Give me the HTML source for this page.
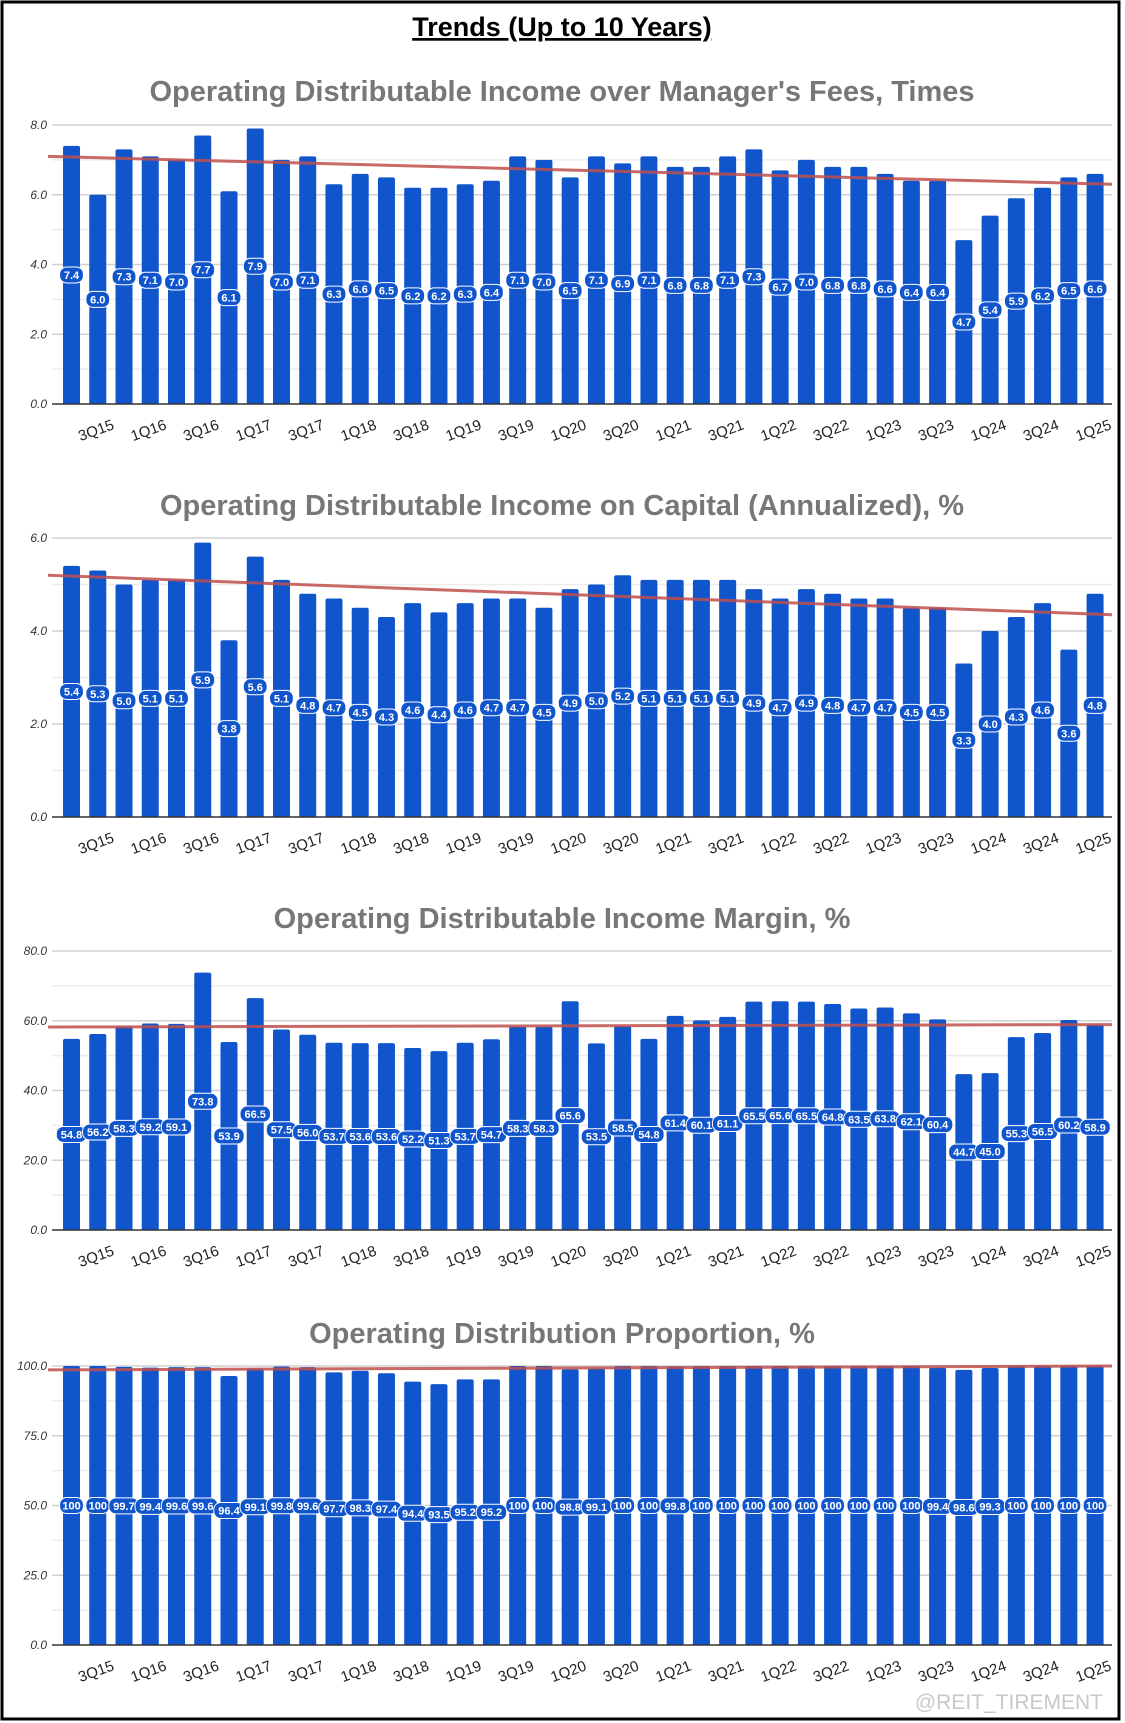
<!DOCTYPE html>
<html><head><meta charset="utf-8"><style>
html,body{margin:0;padding:0;background:#fff}
svg{display:block}
</style></head><body>
<svg id="s" width="1125" height="1723" xmlns="http://www.w3.org/2000/svg" font-family="Liberation Sans, sans-serif">
<rect x="2" y="2" width="1117" height="1717" fill="#fff" stroke="#000" stroke-width="3"/>
<text x="562" y="36" text-anchor="middle" font-size="27" font-weight="bold" text-decoration="underline">Trends (Up to 10 Years)</text>
<text x="1103" y="1709" text-anchor="end" font-size="21" fill="#c8c8c8">@REIT_TIREMENT</text>
</svg>
<script>
const quarters = ["2Q15","3Q15","4Q15","1Q16","2Q16","3Q16","4Q16","1Q17","2Q17","3Q17","4Q17","1Q18","2Q18","3Q18","4Q18","1Q19","2Q19","3Q19","4Q19","1Q20","2Q20","3Q20","4Q20","1Q21","2Q21","3Q21","4Q21","1Q22","2Q22","3Q22","4Q22","1Q23","2Q23","3Q23","4Q23","1Q24","2Q24","3Q24","4Q24","1Q25"];
const feesTimes = [7.4,6.0,7.3,7.1,7.0,7.7,6.1,7.9,7.0,7.1,6.3,6.6,6.5,6.2,6.2,6.3,6.4,7.1,7.0,6.5,7.1,6.9,7.1,6.8,6.8,7.1,7.3,6.7,7.0,6.8,6.8,6.6,6.4,6.4,4.7,5.4,5.9,6.2,6.5,6.6];
const capitalPct = [5.4,5.3,5.0,5.1,5.1,5.9,3.8,5.6,5.1,4.8,4.7,4.5,4.3,4.6,4.4,4.6,4.7,4.7,4.5,4.9,5.0,5.2,5.1,5.1,5.1,5.1,4.9,4.7,4.9,4.8,4.7,4.7,4.5,4.5,3.3,4.0,4.3,4.6,3.6,4.8];
const marginPct = [54.8,56.2,58.3,59.2,59.1,73.8,53.9,66.5,57.5,56.0,53.7,53.6,53.6,52.2,51.3,53.7,54.7,58.3,58.3,65.6,53.5,58.5,54.8,61.4,60.1,61.1,65.5,65.6,65.5,64.8,63.5,63.8,62.1,60.4,44.7,45.0,55.3,56.5,60.2,58.9];
const proportionPct = [100,100,99.7,99.4,99.6,99.6,96.4,99.1,99.8,99.6,97.7,98.3,97.4,94.4,93.5,95.2,95.2,100,100,98.8,99.1,100,100,99.8,100,100,100,100,100,100,100,100,100,99.4,98.6,99.3,100,100,100,100];
const ticks1 = ["0.0","2.0","4.0","6.0","8.0"];
const ticks2 = ["0.0","2.0","4.0","6.0"];
const ticks3 = ["0.0","20.0","40.0","60.0","80.0"];
const ticks4 = ["0.0","25.0","50.0","75.0","100.0"];
const trend1 = [7.1,6.3];
const trend2 = [5.2,4.35];
const trend3 = [58.2,58.9];
const trend4 = [98.6,100];

const NS="http://www.w3.org/2000/svg";
const svg=document.getElementById('s');
function mk(tag,attrs,parent){const e=document.createElementNS(NS,tag);for(const k in attrs)e.setAttribute(k,attrs[k]);(parent||svg).appendChild(e);return e;}

function chart(cfg){
  const g=mk('g',{});
  
  
  const gx0=52,gx1=1112,x0=58.4,x1=1108.2,top=cfg.top,bot=cfg.bot,max=cfg.max;
  const y=v=>bot-(v/max)*(bot-top);
  const pitch=(x1-x0)/cfg.vals.length;
  const cx=i=>x0+pitch*(i+0.5);
  const t=mk('text',{x:562,y:cfg.titleY,'text-anchor':'middle','font-size':29,'font-weight':'bold',fill:'#777'},g);
  t.textContent=cfg.title;
  
  
  const step=max/(cfg.ticks.length-1);
  for(let k=0;k<cfg.ticks.length*2-1;k++){
    const v=k*step/2;
    const ln=mk('line',{x1:gx0,x2:gx1,y1:y(v),y2:y(v),stroke:k%2?'#ececec':'#d0d0d0','stroke-width':k===0?0:1.5},g);
    
    
  }
  cfg.ticks.forEach((lab,k)=>{
    const tx=mk('text',{x:47,y:y(k*step)+4,'text-anchor':'end','font-size':12,'font-style':'italic',fill:'#333'},g);
    tx.textContent=lab;
    
    
  });
  const bw=17;
  cfg.vals.forEach((v,i)=>{
    const yy=y(v);
    const r=mk('path',{d:`M${cx(i)-bw/2},${bot} V${yy+2} q0,-2 2,-2 H${cx(i)+bw/2-2} q2,0 2,2 V${bot} Z`,fill:'#1155cc'},g);
    
    
  });
  const ax=mk('line',{x1:gx0,x2:gx1,y1:bot,y2:bot,stroke:'#333','stroke-width':1.5},g);
  
  
  const tl=mk('line',{x1:gx0-4,x2:gx1,y1:y(cfg.trend[0]),y2:y(cfg.trend[1]),stroke:'#c0504d','stroke-width':3,'stroke-opacity':0.85},g);
  
  
  cfg.vals.forEach((v,i)=>{
    const lab=String(cfg.fmt(v));
    const w=lab.length*6.6+4;
    const ly=y(v/2);
    const rr=mk('rect',{x:cx(i)-w/2,y:ly-8,width:w,height:16,rx:7,fill:'#1155cc',stroke:'#fff','stroke-width':1},g);
    
    
    const tx=mk('text',{x:cx(i),y:ly+4,'text-anchor':'middle','font-size':11,'font-weight':'bold',fill:'#fff'},g);
    tx.textContent=lab;
    
    
  });
  quarters.forEach((q,i)=>{
    if(i%2!==1)return;
    const px=cx(i),py=bot+31;
    const tx=mk('text',{x:px,y:py,'text-anchor':'middle','font-size':15,fill:'#222',transform:`rotate(-20 ${px} ${py})`},g);
    tx.textContent=q;
    
    
  });
}
const f1=v=>v.toFixed(1);
const f4=v=>v===100?'100':v.toFixed(1);
chart({name:'chart-fees-times',title:"Operating Distributable Income over Manager's Fees, Times",titleY:101,top:125,bot:404,max:8,ticks:ticks1,vals:feesTimes,trend:trend1,fmt:f1});
chart({name:'chart-return-on-capital',title:"Operating Distributable Income on Capital (Annualized), %",titleY:515,top:538,bot:817,max:6,ticks:ticks2,vals:capitalPct,trend:trend2,fmt:f1});
chart({name:'chart-margin',title:"Operating Distributable Income Margin, %",titleY:928,top:951,bot:1230,max:80,ticks:ticks3,vals:marginPct,trend:trend3,fmt:f1});
chart({name:'chart-distribution-proportion',title:"Operating Distribution Proportion, %",titleY:1343,top:1366,bot:1645,max:100,ticks:ticks4,vals:proportionPct,trend:trend4,fmt:f4});
</script>
</body></html>
